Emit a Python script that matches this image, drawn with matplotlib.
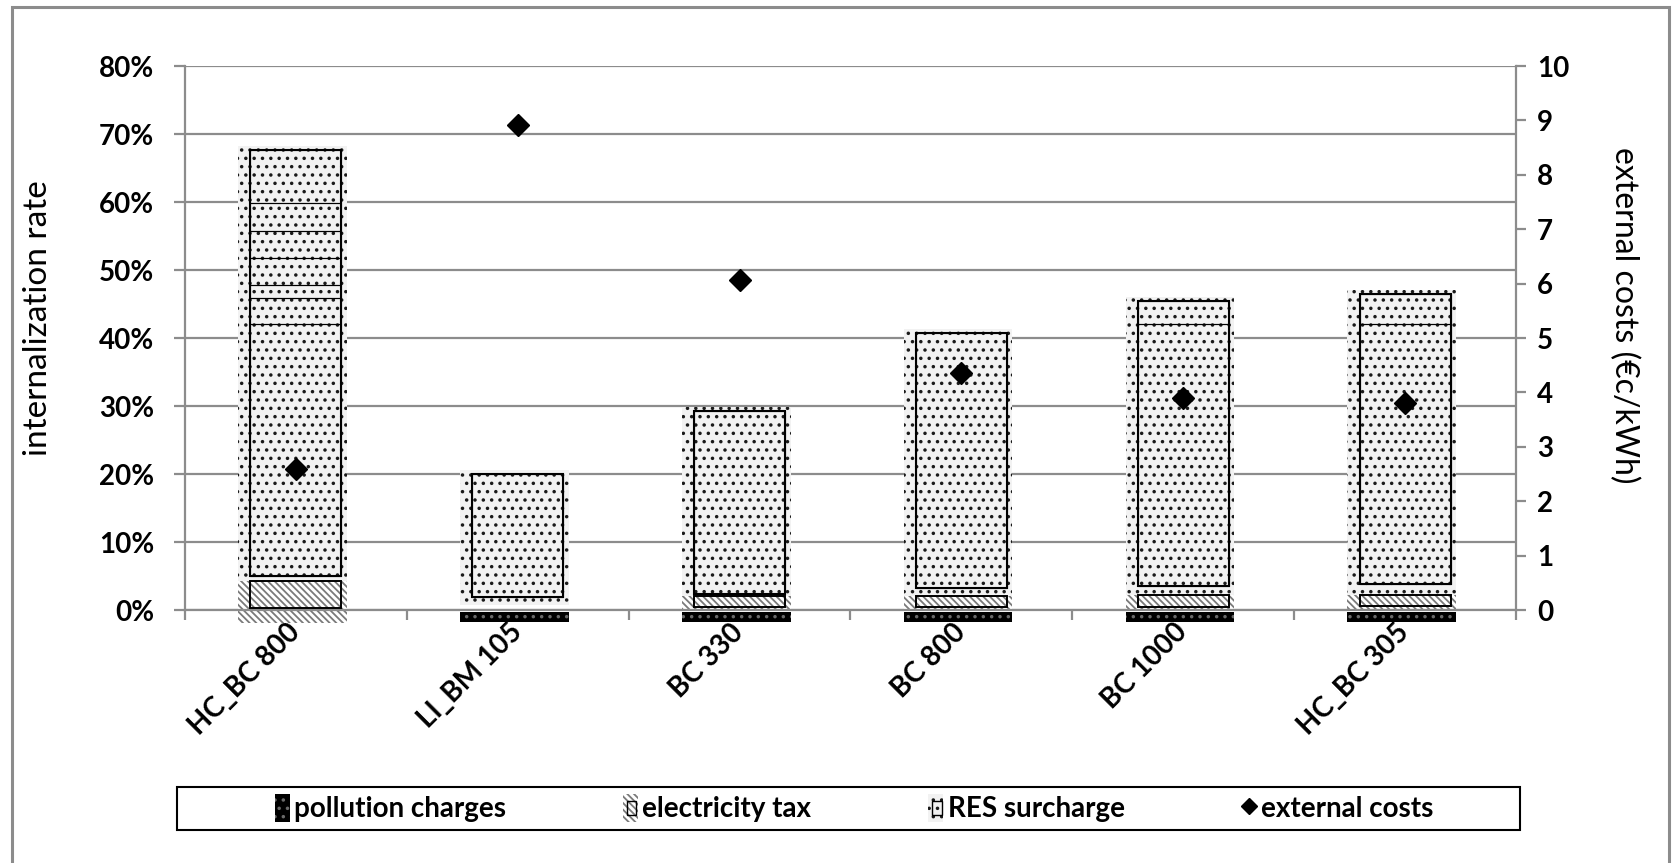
import matplotlib

matplotlib.use("Agg")
import matplotlib.pyplot as plt
import numpy as np
from matplotlib.legend_handler import HandlerBase
from matplotlib.lines import Line2D
from matplotlib.patches import Patch, Rectangle

plt.rcParams["font.family"] = ["Lato", "DejaVu Sans"]
plt.rcParams["hatch.linewidth"] = 1.3

# values in % of the internalization-rate axis, costs in €c/kWh
categories = ["HC_BC 800", "LI_BM 105", "BC 330", "BC 800", "BC 1000", "HC_BC 305"]
pollution_charges = [0.0, 1.5, 1.5, 1.5, 1.5, 1.5]
electricity_tax_from = [0.3, 0.0, 0.4, 0.4, 0.4, 0.6]
electricity_tax = [3.9, 0.0, 1.7, 1.7, 1.8, 1.6]
res_surcharge_from = [5.0, 1.9, 2.35, 3.2, 3.6, 3.8]
res_surcharge_steps = [
    [42.0, 45.9, 47.8, 51.8, 55.8, 59.8, 67.6],
    [20.0],
    [29.2],
    [40.7],
    [42.1, 45.4],
    [42.1, 46.4],
]
external_costs = [2.59, 8.92, 6.07, 4.35, 3.90, 3.80]

GRAY = "#8c8c8c"
BOX_W = 0.41
FILL_W = 0.49
FILL_SHIFT = -0.015

RES_STYLE = dict(facecolor="#f2f2f2", edgecolor="#1a1a1a", hatch="..", linewidth=0)
ELEC_STYLE = dict(facecolor="white", edgecolor="#7a7a7a", hatch="\\\\\\\\\\", linewidth=0)
POLL_STYLE = dict(facecolor="black", edgecolor="#6a6a6a", hatch="..", linewidth=0)


class BoxedPatchHandler(HandlerBase):
    """Pattern swatch with a small black box in it, like the bar outlines."""

    def create_artists(self, legend, orig_handle, xdescent, ydescent,
                       width, height, fontsize, trans):
        fill = Rectangle((-xdescent, -ydescent), width, height,
                         facecolor=orig_handle.get_facecolor(),
                         edgecolor=orig_handle.get_edgecolor(),
                         hatch=orig_handle.get_hatch(), linewidth=0,
                         transform=trans)
        box = Rectangle((-xdescent + width * 0.28, -ydescent + height * 0.25),
                        width * 0.6, height * 0.5, fill=False,
                        edgecolor="black", linewidth=1.0, transform=trans)
        return [fill, box]


def draw_bars(ax, x):
    for i in range(len(categories)):
        el_lo = electricity_tax_from[i]
        el_hi = el_lo + electricity_tax[i]
        res_lo = res_surcharge_from[i]
        levels = res_surcharge_steps[i]
        xf = x[i] + FILL_SHIFT

        # pattern fills
        res_fill_lo = el_hi if electricity_tax[i] > 0 else res_lo - 1.2
        ax.bar(xf, levels[-1] + 0.6 - res_fill_lo, bottom=res_fill_lo,
               width=FILL_W, zorder=2, **RES_STYLE)
        if electricity_tax[i] > 0:
            el_fill_lo = 0.0 if pollution_charges[i] > 0 else -1.9
            ax.bar(xf, el_hi - el_fill_lo, bottom=el_fill_lo, width=FILL_W,
                   zorder=2, clip_on=False, **ELEC_STYLE)
        if pollution_charges[i] > 0:
            ax.bar(xf, -pollution_charges[i], bottom=-0.3, width=FILL_W,
                   zorder=2, clip_on=False, **POLL_STYLE)

        # black outlines
        if electricity_tax[i] > 0:
            ax.bar(x[i], electricity_tax[i], bottom=el_lo, width=BOX_W,
                   fill=False, edgecolor="black", linewidth=1.4, zorder=3)
        edges = np.array([res_lo] + levels)
        ax.bar(np.full(len(levels), x[i]), np.diff(edges), bottom=edges[:-1],
               width=BOX_W, fill=False, edgecolor="black", linewidth=0.8, zorder=3)
        ax.bar(x[i], levels[-1] - res_lo, bottom=res_lo, width=BOX_W,
               fill=False, edgecolor="black", linewidth=1.5, zorder=3)


def main():
    fig = plt.figure(figsize=(16.73, 8.63), dpi=100)
    ax = fig.add_axes([185 / 1673, 1 - 610 / 863, 1331 / 1673, 544 / 863])
    x = np.arange(len(categories))

    ax.set_xlim(-0.5, len(categories) - 0.5)
    ax.set_ylim(0, 80)
    ax.yaxis.grid(True, color=GRAY, linewidth=1.6)
    ax.set_axisbelow(True)

    draw_bars(ax, x)

    yt = np.arange(0, 81, 10)
    ax.set_yticks(yt, [f"{v}%" for v in yt], fontsize=20, fontweight="bold")
    ax.tick_params(axis="y", length=8, width=1.6, color=GRAY, pad=14)
    ax.set_xticks(x, categories, rotation=45, ha="right", va="center",
                  rotation_mode="anchor", fontsize=20, fontweight="bold")
    ax.set_xticks(np.arange(len(categories) + 1) - 0.5, minor=True)
    ax.tick_params(axis="x", which="major", length=0, pad=13)
    ax.tick_params(axis="x", which="minor", length=7, width=1.6, color=GRAY)
    for side in ("left", "bottom"):
        ax.spines[side].set_color(GRAY)
        ax.spines[side].set_linewidth(1.6)
    ax.spines["top"].set_visible(False)
    ax.spines["right"].set_visible(False)

    ax2 = ax.twinx()
    ax2.plot(x, external_costs, linestyle="none", marker="D", markersize=11.5,
             color="black", zorder=4)
    ax2.set_ylim(0, 10)
    ax2.set_yticks(range(0, 11), [str(v) for v in range(0, 11)],
                   fontsize=20, fontweight="bold")
    ax2.tick_params(axis="y", length=7, width=1.6, color=GRAY, pad=8)
    for side in ("left", "top", "bottom"):
        ax2.spines[side].set_visible(False)
    ax2.spines["right"].set_color(GRAY)
    ax2.spines["right"].set_linewidth(1.6)

    fig.text(38 / 1673, 1 - 318 / 863, "internalization rate", rotation=90,
             ha="center", va="center", fontsize=24)
    fig.text(1624 / 1673, 1 - 315 / 863, "external costs (€c/kWh)", rotation=270,
             ha="center", va="center", fontsize=23)

    handles = [
        Patch(**POLL_STYLE, label="pollution charges"),
        Patch(**ELEC_STYLE, label="electricity tax"),
        Patch(**RES_STYLE, label="RES surcharge"),
        Line2D([], [], linestyle="none", marker="D", markersize=8,
               color="black", label="external costs"),
    ]
    boxed = BoxedPatchHandler()
    fig.legend(handles=handles, loc="center",
               bbox_to_anchor=(854 / 1673, 1 - 808 / 863), ncol=4,
               frameon=False, prop={"size": 20, "weight": "bold"},
               handlelength=0.55, handleheight=1.2, handletextpad=0.15,
               columnspacing=4.2,
               handler_map={handles[1]: boxed, handles[2]: boxed})
    fig.add_artist(Rectangle((177 / 1673, 1 - 830 / 863), 1343 / 1673, 43 / 863,
                             transform=fig.transFigure, fill=False,
                             edgecolor="black", linewidth=1.5))

    # chart area border
    fig.add_artist(Rectangle((12 / 1673, -0.02), 1657 / 1673, 1.02 - 7 / 863,
                             transform=fig.transFigure, fill=False,
                             edgecolor=GRAY, linewidth=2.2, clip_on=False))

    fig.savefig("out.png", dpi=100, facecolor="white")


if __name__ == "__main__":
    main()
